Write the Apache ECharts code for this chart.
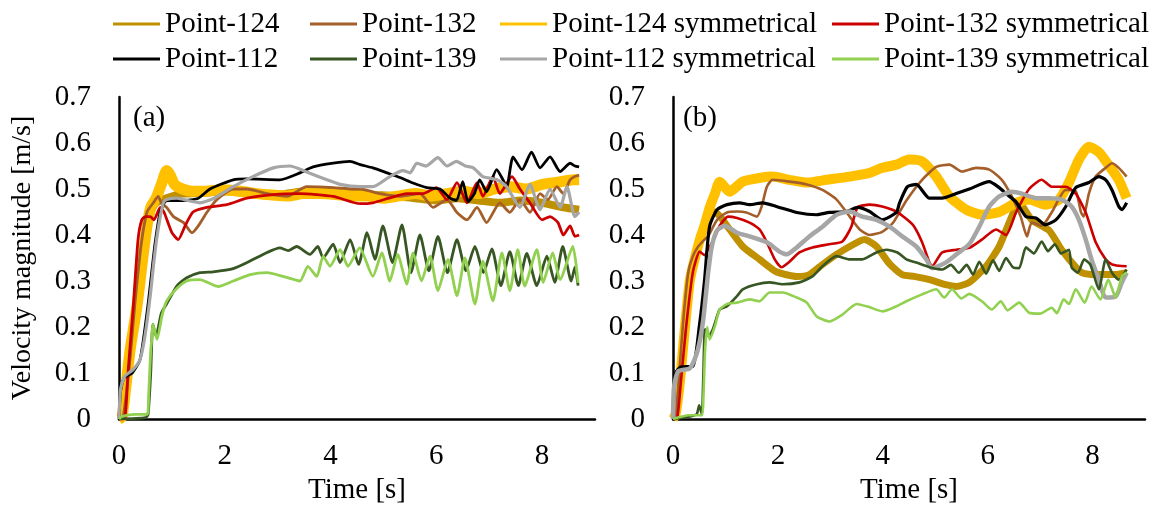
<!DOCTYPE html>
<html>
<head>
<meta charset="utf-8">
<script src="https://cdn.jsdelivr.net/npm/echarts@6/dist/echarts.min.js"></script>
<style>
  html, body { margin: 0; padding: 0; background: #fff; }
  #chart { width: 1156px; height: 510px; }
</style>
</head>
<body>
<div id="chart"></div>
<script>
// ---- Series names (legend order, two rows) ----
const legendRow1 = ['Point-124', 'Point-132', 'Point-124 symmetrical', 'Point-132 symmetrical'];
const legendRow2 = ['Point-112', 'Point-139', 'Point-112 symmetrical', 'Point-139 symmetrical'];
const panelLabels = ['(a)', '(b)'];

// ---- Panel (a): [time s, velocity m/s] ----
const a124sym = [[0,0],[0.06,0.005],[0.21,0.15],[0.34,0.245],[0.45,0.35],[0.53,0.42],[0.6,0.46],[0.7,0.48],[0.8,0.51],[0.9,0.54],[0.97,0.53],[1.05,0.51],[1.2,0.5],[1.4,0.495],[1.6,0.495],[1.8,0.497],[2.0,0.498],[2.3,0.495],[2.6,0.49],[2.9,0.487],[3.2,0.485],[3.5,0.49],[3.8,0.49],[4.1,0.488],[4.4,0.485],[4.7,0.485],[5.0,0.48],[5.3,0.485],[5.6,0.49],[5.9,0.485],[6.2,0.49],[6.5,0.495],[6.8,0.49],[7.1,0.5],[7.4,0.505],[7.7,0.5],[8.0,0.51],[8.3,0.515],[8.6,0.52],[8.7,0.52]];
const a124 = [[0,0],[0.06,0.005],[0.21,0.15],[0.34,0.245],[0.45,0.35],[0.53,0.42],[0.6,0.45],[0.7,0.47],[0.9,0.48],[1.2,0.49],[1.6,0.492],[2.0,0.495],[2.5,0.49],[3.0,0.488],[3.5,0.495],[4.0,0.497],[4.4,0.49],[4.8,0.487],[5.2,0.485],[5.6,0.48],[6.0,0.475],[6.4,0.48],[6.8,0.475],[7.2,0.47],[7.6,0.475],[8.0,0.47],[8.4,0.46],[8.7,0.455]];
const a132 = [[0,0],[0.08,0.005],[0.2,0.12],[0.3,0.25],[0.42,0.38],[0.53,0.45],[0.65,0.47],[0.74,0.484],[0.8,0.47],[0.9,0.46],[1.03,0.44],[1.22,0.427],[1.38,0.405],[1.5,0.42],[1.66,0.449],[1.85,0.477],[2.16,0.5],[2.42,0.5],[2.8,0.49],[3.18,0.484],[3.55,0.505],[4.05,0.503],[4.42,0.5],[4.56,0.5],[4.93,0.49],[5.31,0.484],[5.69,0.49],[5.94,0.46],[6.2,0.477],[6.39,0.449],[6.58,0.433],[6.77,0.46],[6.95,0.427],[7.2,0.47],[7.39,0.449],[7.58,0.477],[7.77,0.449],[7.96,0.49],[8.11,0.477],[8.28,0.505],[8.4,0.49],[8.53,0.52],[8.62,0.527],[8.7,0.53]];
const a132sym = [[0,0],[0.11,0.002],[0.17,0.1],[0.27,0.245],[0.36,0.39],[0.43,0.433],[0.5,0.44],[0.59,0.44],[0.66,0.433],[0.78,0.46],[0.85,0.45],[1.0,0.405],[1.12,0.39],[1.25,0.42],[1.4,0.45],[1.66,0.46],[2.04,0.466],[2.42,0.48],[2.92,0.488],[3.42,0.49],[4.05,0.484],[4.56,0.468],[4.8,0.47],[5.1,0.48],[5.44,0.49],[5.75,0.49],[6.0,0.503],[6.2,0.477],[6.39,0.514],[6.58,0.47],[6.77,0.514],[6.88,0.484],[7.07,0.527],[7.2,0.49],[7.43,0.527],[7.58,0.5],[7.77,0.47],[8.0,0.433],[8.15,0.44],[8.3,0.427],[8.4,0.4],[8.53,0.42],[8.62,0.397],[8.7,0.4]];
const a112 = [[0,0],[0.03,0.06],[0.1,0.09],[0.25,0.1],[0.4,0.13],[0.55,0.25],[0.68,0.38],[0.78,0.45],[0.9,0.475],[1.2,0.475],[1.5,0.48],[1.72,0.5],[2.16,0.52],[2.42,0.522],[3.04,0.52],[3.42,0.535],[3.67,0.548],[4.05,0.556],[4.37,0.56],[4.56,0.553],[4.8,0.546],[5.07,0.535],[5.31,0.525],[5.56,0.513],[5.82,0.503],[6.07,0.5],[6.26,0.48],[6.38,0.475],[6.5,0.516],[6.6,0.472],[6.72,0.49],[6.82,0.52],[6.95,0.494],[7.14,0.542],[7.26,0.52],[7.33,0.503],[7.45,0.57],[7.62,0.542],[7.8,0.58],[7.96,0.546],[8.15,0.57],[8.34,0.538],[8.53,0.556],[8.62,0.55],[8.7,0.548]];
const a139 = [[0,0],[0.5,0.003],[0.55,0.01],[0.6,0.1],[0.64,0.206],[0.7,0.18],[0.8,0.23],[0.9,0.25],[1.1,0.29],[1.28,0.307],[1.53,0.318],[1.78,0.32],[2.16,0.327],[2.42,0.34],[2.8,0.362],[3.04,0.372],[3.2,0.366],[3.36,0.375],[3.61,0.358],[3.76,0.375],[3.86,0.35],[4.05,0.38],[4.18,0.34],[4.37,0.39],[4.53,0.336],[4.69,0.405],[4.84,0.347],[4.99,0.42],[5.17,0.34],[5.35,0.422],[5.52,0.318],[5.69,0.4],[5.86,0.322],[6.03,0.397],[6.21,0.318],[6.39,0.39],[6.56,0.322],[6.73,0.375],[6.89,0.318],[7.05,0.37],[7.22,0.29],[7.39,0.364],[7.55,0.29],[7.71,0.36],[7.9,0.29],[8.09,0.354],[8.24,0.297],[8.39,0.375],[8.55,0.3],[8.62,0.33],[8.68,0.29]];
const a112sym = [[0,0],[0.03,0.065],[0.11,0.093],[0.27,0.108],[0.4,0.13],[0.49,0.18],[0.59,0.267],[0.65,0.332],[0.71,0.39],[0.78,0.44],[0.84,0.47],[0.9,0.477],[1.1,0.48],[1.3,0.475],[1.53,0.47],[1.8,0.48],[2.16,0.505],[2.53,0.527],[2.92,0.546],[3.23,0.55],[3.55,0.537],[3.93,0.52],[4.18,0.51],[4.56,0.505],[4.8,0.505],[5.12,0.527],[5.37,0.54],[5.5,0.535],[5.63,0.556],[5.8,0.55],[6.03,0.568],[6.2,0.55],[6.38,0.56],[6.55,0.55],[6.7,0.546],[6.88,0.527],[7.15,0.52],[7.33,0.505],[7.58,0.46],[7.77,0.51],[7.96,0.455],[8.15,0.5],[8.34,0.46],[8.47,0.505],[8.62,0.44],[8.7,0.45]];
const a139sym = [[0,0],[0.05,0.005],[0.3,0.01],[0.53,0.01],[0.56,0.05],[0.6,0.15],[0.62,0.173],[0.64,0.206],[0.72,0.173],[0.81,0.223],[0.9,0.256],[1.06,0.28],[1.28,0.3],[1.53,0.303],[1.87,0.288],[2.16,0.3],[2.48,0.314],[2.8,0.318],[3.1,0.31],[3.42,0.3],[3.57,0.332],[3.74,0.31],[3.86,0.354],[3.99,0.332],[4.18,0.368],[4.33,0.332],[4.55,0.372],[4.8,0.31],[4.97,0.361],[5.12,0.3],[5.27,0.358],[5.44,0.293],[5.56,0.361],[5.72,0.3],[5.88,0.354],[6.03,0.279],[6.22,0.347],[6.39,0.268],[6.54,0.35],[6.73,0.25],[6.88,0.343],[7.07,0.257],[7.24,0.361],[7.39,0.279],[7.54,0.368],[7.67,0.289],[7.9,0.368],[8.02,0.297],[8.2,0.361],[8.34,0.303],[8.58,0.375],[8.68,0.296]];

// ---- Panel (b): [time s, velocity m/s] ----
const b124sym = [[0,0],[0.05,0.01],[0.13,0.08],[0.32,0.3],[0.51,0.39],[0.6,0.42],[0.7,0.46],[0.8,0.49],[0.89,0.516],[1.08,0.494],[1.33,0.516],[1.65,0.524],[1.9,0.527],[2.22,0.52],[2.55,0.514],[2.93,0.52],[3.37,0.527],[3.75,0.535],[3.99,0.546],[4.26,0.553],[4.5,0.564],[4.75,0.56],[5.02,0.527],[5.27,0.484],[5.59,0.455],[5.89,0.444],[6.22,0.45],[6.54,0.47],[6.79,0.477],[7.1,0.466],[7.36,0.477],[7.55,0.514],[7.74,0.564],[7.93,0.592],[8.12,0.58],[8.3,0.553],[8.5,0.52],[8.65,0.48]];
const b124 = [[0,0],[0.05,0.01],[0.13,0.08],[0.32,0.3],[0.51,0.39],[0.65,0.43],[0.8,0.45],[0.9,0.44],[1.03,0.42],[1.33,0.375],[1.65,0.347],[1.97,0.32],[2.36,0.31],[2.6,0.314],[2.85,0.336],[3.12,0.358],[3.37,0.375],[3.65,0.39],[3.88,0.375],[4.13,0.337],[4.37,0.314],[4.6,0.31],[4.89,0.303],[5.2,0.292],[5.4,0.288],[5.65,0.297],[5.97,0.332],[6.22,0.375],[6.41,0.427],[6.6,0.47],[6.84,0.433],[7.17,0.41],[7.41,0.368],[7.68,0.33],[7.8,0.318],[8.06,0.314],[8.44,0.314],[8.65,0.318]];
const b132 = [[0,0],[0.05,0.005],[0.12,0.1],[0.2,0.22],[0.29,0.318],[0.38,0.354],[0.48,0.375],[0.6,0.39],[0.67,0.397],[0.84,0.433],[1.03,0.449],[1.22,0.451],[1.4,0.449],[1.6,0.44],[1.69,0.462],[1.79,0.505],[1.9,0.52],[2.22,0.516],[2.55,0.51],[2.85,0.498],[3.12,0.477],[3.37,0.44],[3.56,0.412],[3.75,0.4],[3.99,0.407],[4.2,0.427],[4.45,0.475],[4.75,0.52],[5.02,0.548],[5.27,0.553],[5.51,0.538],[5.78,0.546],[6.03,0.542],[6.27,0.52],[6.46,0.484],[6.63,0.44],[6.75,0.397],[6.84,0.427],[7.03,0.42],[7.22,0.449],[7.49,0.498],[7.68,0.495],[7.78,0.449],[7.83,0.44],[7.93,0.49],[8.06,0.527],[8.25,0.546],[8.37,0.556],[8.5,0.546],[8.65,0.527]];
const b132sym = [[0,0],[0.08,0.002],[0.15,0.08],[0.25,0.2],[0.38,0.32],[0.51,0.364],[0.6,0.356],[0.7,0.375],[0.78,0.39],[0.89,0.42],[1.05,0.44],[1.22,0.437],[1.46,0.427],[1.65,0.412],[1.79,0.384],[1.94,0.347],[2.07,0.33],[2.22,0.342],[2.41,0.362],[2.66,0.373],[2.98,0.38],[3.23,0.386],[3.4,0.418],[3.52,0.46],[3.75,0.466],[3.99,0.462],[4.26,0.451],[4.47,0.433],[4.6,0.418],[4.75,0.384],[4.89,0.34],[4.94,0.332],[5.13,0.362],[5.4,0.368],[5.65,0.372],[5.89,0.39],[6.16,0.412],[6.35,0.4],[6.54,0.449],[6.79,0.5],[7.03,0.52],[7.22,0.505],[7.49,0.505],[7.68,0.49],[7.87,0.449],[8.06,0.384],[8.25,0.347],[8.37,0.336],[8.5,0.333],[8.65,0.332]];
const b112 = [[0,0],[0.02,0.06],[0.05,0.1],[0.15,0.113],[0.38,0.115],[0.5,0.2],[0.6,0.3],[0.65,0.37],[0.7,0.42],[0.84,0.455],[1.03,0.466],[1.27,0.47],[1.46,0.466],[1.71,0.47],[1.97,0.462],[2.36,0.449],[2.74,0.444],[2.98,0.449],[3.31,0.451],[3.52,0.46],[3.75,0.451],[3.99,0.433],[4.26,0.449],[4.32,0.47],[4.47,0.505],[4.64,0.51],[4.89,0.48],[5.13,0.48],[5.4,0.49],[5.65,0.5],[6.03,0.516],[6.22,0.503],[6.35,0.49],[6.54,0.472],[6.73,0.44],[6.92,0.437],[7.1,0.422],[7.3,0.433],[7.49,0.462],[7.68,0.503],[7.93,0.514],[8.12,0.527],[8.25,0.52],[8.37,0.498],[8.5,0.462],[8.56,0.455],[8.65,0.47]];
const b139 = [[0,0],[0.3,0.005],[0.45,0.01],[0.5,0.03],[0.55,0.01],[0.58,0.1],[0.61,0.195],[0.68,0.18],[0.76,0.195],[0.89,0.238],[1.03,0.245],[1.22,0.267],[1.33,0.282],[1.6,0.293],[1.84,0.297],[2.09,0.293],[2.41,0.297],[2.66,0.31],[2.85,0.332],[3.12,0.354],[3.37,0.347],[3.61,0.347],[3.88,0.362],[4.07,0.368],[4.28,0.362],[4.45,0.347],[4.64,0.34],[4.89,0.33],[5.13,0.325],[5.3,0.335],[5.45,0.318],[5.6,0.335],[5.72,0.314],[5.84,0.342],[5.97,0.316],[6.1,0.345],[6.22,0.322],[6.35,0.35],[6.48,0.33],[6.6,0.328],[6.73,0.373],[6.88,0.36],[7.03,0.386],[7.15,0.365],[7.28,0.38],[7.4,0.36],[7.55,0.368],[7.6,0.33],[7.72,0.318],[7.84,0.347],[7.96,0.335],[8.12,0.282],[8.25,0.347],[8.37,0.318],[8.5,0.303],[8.65,0.325]];
const b112sym = [[0,0],[0.02,0.07],[0.1,0.104],[0.32,0.11],[0.46,0.145],[0.57,0.21],[0.67,0.318],[0.74,0.375],[0.84,0.41],[0.99,0.42],[1.22,0.405],[1.46,0.397],[1.79,0.384],[2.03,0.364],[2.17,0.358],[2.36,0.373],[2.6,0.397],[2.85,0.418],[3.12,0.444],[3.37,0.451],[3.61,0.44],[3.88,0.433],[4.13,0.418],[4.37,0.397],[4.64,0.375],[4.83,0.347],[4.94,0.328],[5.2,0.34],[5.45,0.362],[5.65,0.38],[5.84,0.418],[6.03,0.462],[6.22,0.484],[6.46,0.494],[6.65,0.49],[6.92,0.48],[7.17,0.48],[7.41,0.477],[7.6,0.462],[7.74,0.433],[7.87,0.39],[7.98,0.347],[8.12,0.303],[8.25,0.264],[8.44,0.266],[8.56,0.297],[8.65,0.318]];
const b139sym = [[0,0],[0.3,0.008],[0.55,0.008],[0.58,0.05],[0.61,0.145],[0.65,0.2],[0.7,0.173],[0.8,0.202],[0.89,0.238],[1.03,0.25],[1.22,0.253],[1.46,0.26],[1.65,0.256],[1.84,0.275],[2.09,0.275],[2.36,0.264],[2.55,0.253],[2.74,0.223],[2.98,0.212],[3.23,0.227],[3.5,0.25],[3.75,0.243],[3.99,0.234],[4.26,0.245],[4.45,0.256],[4.75,0.271],[5.02,0.282],[5.17,0.264],[5.32,0.282],[5.5,0.262],[5.65,0.272],[5.89,0.256],[6.08,0.238],[6.25,0.256],[6.38,0.236],[6.6,0.253],[6.79,0.231],[7.0,0.229],[7.22,0.242],[7.32,0.23],[7.45,0.26],[7.55,0.25],[7.68,0.282],[7.85,0.253],[7.98,0.288],[8.15,0.26],[8.3,0.303],[8.44,0.264],[8.56,0.31],[8.65,0.318]];

// ---- Styling ----
const FONT = "'Liberation Serif', 'Times New Roman', serif";
const colors = {
  'Point-124': '#BF9000',
  'Point-132': '#A35E2A',
  'Point-124 symmetrical': '#FFC000',
  'Point-132 symmetrical': '#CC0000',
  'Point-112': '#000000',
  'Point-139': '#375623',
  'Point-112 symmetrical': '#A6A6A6',
  'Point-139 symmetrical': '#92D050'
};

// drawing order (first = bottom) with line widths per panel
const panels = [
  [
    ['Point-124', a124, 8],
    ['Point-124 symmetrical', a124sym, 11],
    ['Point-132', a132, 2.8],
    ['Point-132 symmetrical', a132sym, 2.8],
    ['Point-112', a112, 2.8],
    ['Point-112 symmetrical', a112sym, 3.2],
    ['Point-139', a139, 2.8],
    ['Point-139 symmetrical', a139sym, 2.8]
  ],
  [
    ['Point-124', b124, 7],
    ['Point-124 symmetrical', b124sym, 10],
    ['Point-132', b132, 2.6],
    ['Point-132 symmetrical', b132sym, 2.6],
    ['Point-112', b112, 3.2],
    ['Point-112 symmetrical', b112sym, 4.5],
    ['Point-139', b139, 2.6],
    ['Point-139 symmetrical', b139sym, 2.6]
  ]
];

const series = [];
panels.forEach((list, p) => {
  list.forEach(([name, data, w]) => {
    series.push({
      type: 'line', name, data,
      xAxisIndex: p, yAxisIndex: p,
      showSymbol: false, symbol: 'none',
      smooth: 0.2,
      color: colors[name],
      lineStyle: { color: colors[name], width: w, cap: 'butt', join: 'round' },
      emphasis: { disabled: true },
      animation: false
    });
  });
});

const labelStyle = { fontFamily: FONT, fontSize: 29, color: '#000' };
const axisLine = { show: true, onZero: false, lineStyle: { color: '#000', width: 2.5 } };

function xAxis(i) {
  return {
    gridIndex: i, type: 'value', min: 0, max: 9, interval: 2,
    axisLine, axisTick: { show: false }, splitLine: { show: false },
    axisLabel: Object.assign({ margin: 23, showMaxLabel: false }, labelStyle),
    name: 'Time [s]', nameLocation: 'middle', nameGap: 57,
    nameTextStyle: labelStyle
  };
}
function yAxis(i) {
  const ax = {
    gridIndex: i, type: 'value', min: 0, max: 0.7, interval: 0.1,
    axisLine, axisTick: { show: false }, splitLine: { show: false },
    axisLabel: Object.assign({
      margin: 28,
      formatter: v => (Math.abs(v) < 1e-9 ? '0' : v.toFixed(1))
    }, labelStyle)
  };
  if (i === 0) {
    ax.name = 'Velocity magnitude [m/s]';
    ax.nameLocation = 'middle';
    ax.nameGap = 82;
    ax.nameTextStyle = { fontFamily: FONT, fontSize: 28, color: '#000' };
  }
  return ax;
}

// legend: four columns, two rows each; flat 3px swatches without outline
const colLeft = [113, 310, 500, 832];
const legends = colLeft.map((left, c) => ({
  orient: 'vertical', left, top: 8, padding: 0, itemGap: 3,
  itemWidth: 47, itemHeight: 3, icon: 'rect',
  itemStyle: { borderWidth: 0, borderColor: 'transparent' },
  data: [legendRow1[c], legendRow2[c]],
  textStyle: { fontFamily: FONT, fontSize: 29, color: '#000', lineHeight: 32 }
}));

const chart = echarts.init(document.getElementById('chart'), null, { renderer: 'canvas' });
chart.setOption({
  animation: false,
  backgroundColor: '#fff',
  legend: legends,
  grid: [
    { left: 119, top: 97, width: 476, height: 323 },
    { left: 673, top: 97, width: 472, height: 323 }
  ],
  xAxis: [xAxis(0), xAxis(1)],
  yAxis: [yAxis(0), yAxis(1)],
  graphic: [
    { type: 'text', left: 133, top: 104, style: { text: panelLabels[0], font: "29px 'Liberation Serif', serif", fill: '#000' } },
    { type: 'text', left: 683, top: 104, style: { text: panelLabels[1], font: "29px 'Liberation Serif', serif", fill: '#000' } }
  ],
  series
});
</script>
</body>
</html>
